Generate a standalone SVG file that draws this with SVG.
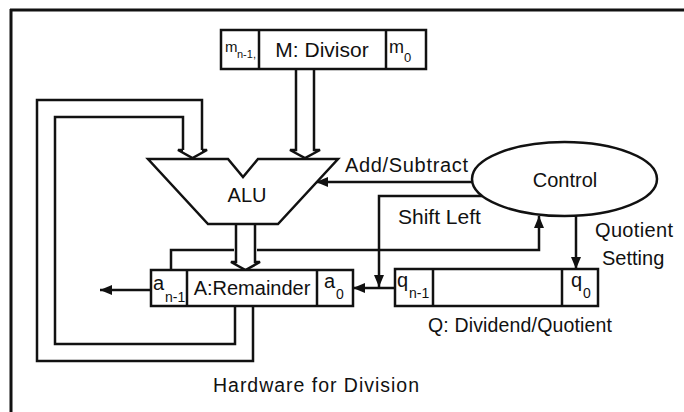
<svg xmlns="http://www.w3.org/2000/svg" width="684" height="412" viewBox="0 0 684 412">
<defs>
<style>
.ln{fill:none;stroke:#111;stroke-width:2.5;stroke-linejoin:miter}
.box{fill:#fff;stroke:#111;stroke-width:2.5}
.dbl{fill:#fff;stroke:#111;stroke-width:2.5;stroke-linejoin:miter}
text{font-family:"Liberation Sans",Arial,sans-serif;fill:#111}
.t20{font-size:20px}
.t21{font-size:21px}
.t19{font-size:19.5px}
</style>
<marker id="ah" viewBox="0 0 12 10" refX="12" refY="5" markerWidth="12" markerHeight="10" markerUnits="userSpaceOnUse" orient="auto">
<path d="M0,0 L12,5 L0,10 Z" fill="#111"/>
</marker>
</defs>
<rect width="684" height="412" fill="#fff"/>
<g id="frame">
<path d="M10 10 H684 M11 9 V412" fill="none" stroke="#111" stroke-width="3"/>
</g>
<g id="connectors">
<path class="ln" d="M235 306 V344 H55 V117 H183 V150"/>
<path class="ln" d="M253 306 V361 H37 V100 H202 V150"/>
<path class="ln" d="M183 150 H178 L192.5 158 L207 150 H202"/>
<path class="dbl" d="M296 69 V150 H290 L305 158 L320 150 H314 V69"/>
<path class="ln" d="M171 270 V250 H234 M257 250 H539 V216" marker-end="url(#ah)"/>
<path class="dbl" d="M236 224 V262 H231 L245.5 270 L260 262 H255 V224"/>
<path class="ln" d="M472 182 H316" marker-end="url(#ah)"/>
<path class="ln" d="M482 196 H379 V287" marker-end="url(#ah)"/>
<path class="ln" d="M576 216 V269" marker-end="url(#ah)"/>
<path class="ln" d="M395 288 H353" marker-end="url(#ah)"/>
<path class="ln" d="M151 290 H100" marker-end="url(#ah)"/>
</g>
<g id="M">
<rect class="box" x="221" y="30" width="205" height="39"/>
<path class="ln" d="M259 30 V69 M386 30 V69"/>
<text x="225" y="52" style="font-size:15px">m</text>
<text x="237" y="58" style="font-size:11px">n-1,</text>
<text x="322" y="57" class="t21" text-anchor="middle">M: Divisor</text>
<text x="389" y="53" style="font-size:18px">m</text>
<text x="404" y="62" style="font-size:13px">0</text>
</g>
<g id="ALU">
<path class="box" d="M148 159 H228 L243 177 L258 159 H338 L278 224 H208 Z"/>
<text x="247" y="202" class="t20" text-anchor="middle">ALU</text>
</g>
<g id="Control">
<ellipse class="box" cx="564.5" cy="179" rx="92.5" ry="37"/>
<text x="565" y="187" class="t20" text-anchor="middle">Control</text>
</g>
<g id="A">
<rect class="box" x="151" y="270" width="202" height="36"/>
<path class="ln" d="M187 270 V306 M317 270 V306"/>
<text x="153" y="290" class="t20">a</text>
<text x="165" y="302" style="font-size:14px">n-1</text>
<text x="252" y="295" class="t20" text-anchor="middle">A:Remainder</text>
<text x="324" y="288" class="t20">a</text>
<text x="336" y="299" style="font-size:14px">0</text>
</g>
<g id="Q">
<rect class="box" x="395" y="269" width="203" height="37"/>
<path class="ln" d="M433 269 V306 M562 269 V306"/>
<text x="397" y="287" class="t20">q</text>
<text x="409" y="298" style="font-size:14px">n-1</text>
<text x="571" y="287" class="t20">q</text>
<text x="583" y="298" style="font-size:14px">0</text>
</g>
<g id="labels">
<text x="345" y="172" class="t20" textLength="123">Add/Subtract</text>
<text x="398" y="224" class="t21">Shift Left</text>
<text x="595" y="237" class="t20" textLength="78">Quotient</text>
<text x="602" y="265" class="t20">Setting</text>
<text x="428" y="332" class="t19" textLength="184">Q: Dividend/Quotient</text>
<text x="213" y="392" class="t19" textLength="206">Hardware for Division</text>
</g>
</svg>
